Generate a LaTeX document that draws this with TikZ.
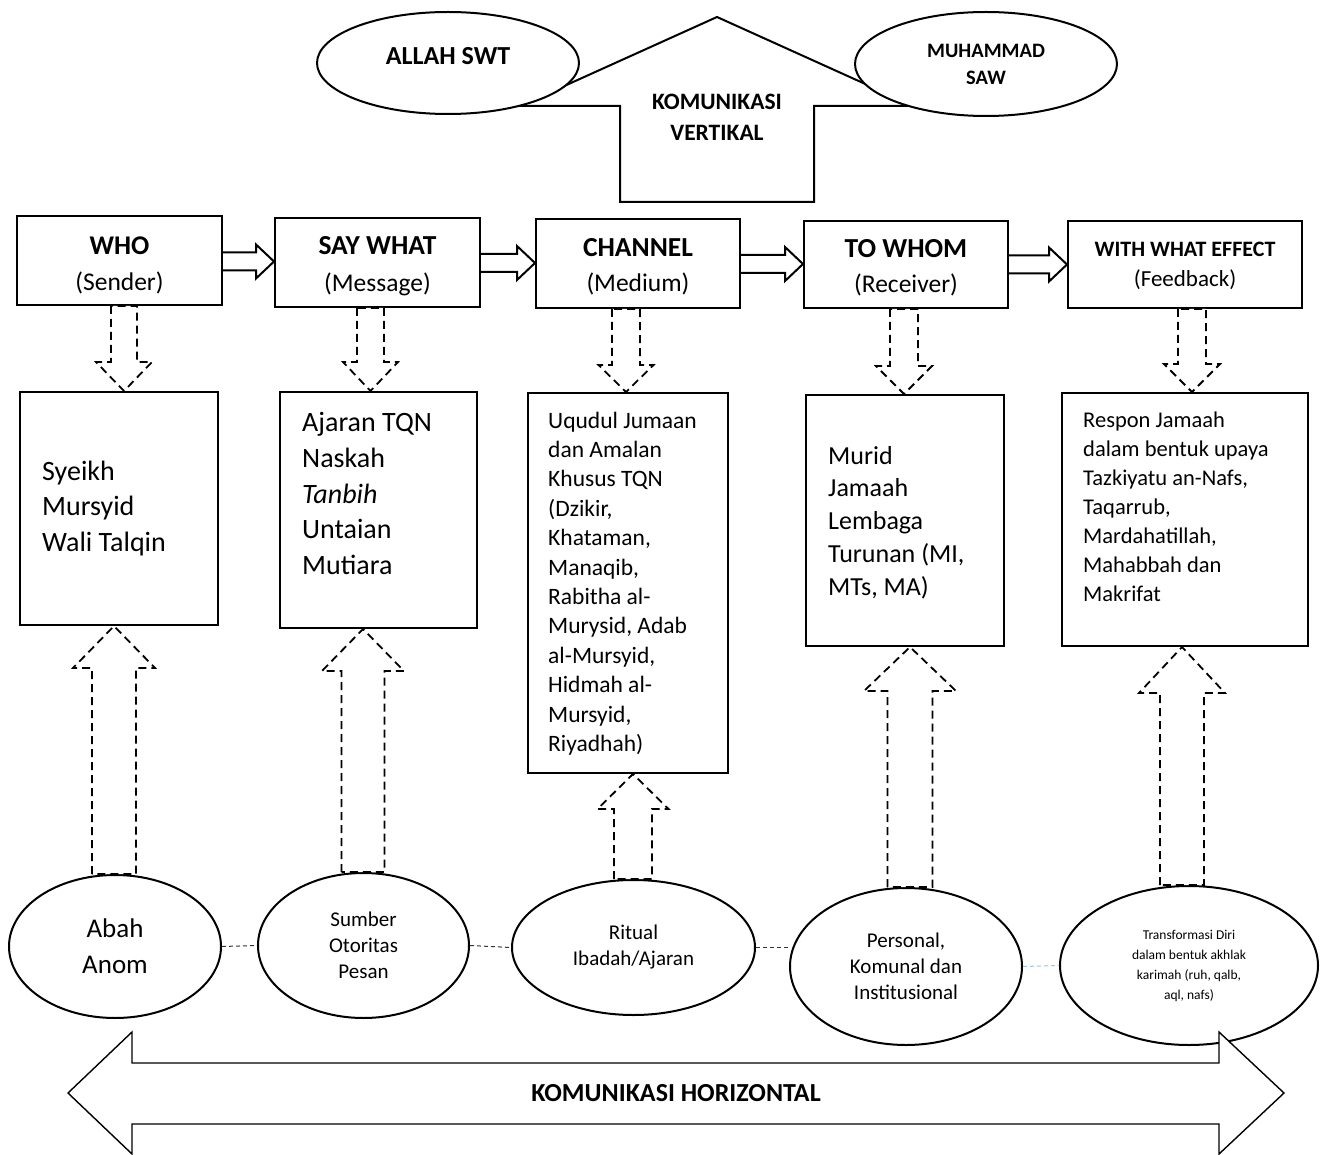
\documentclass[tikz,border=0pt]{standalone}
\usepackage{fontspec}
\setmainfont{Carlito}
\usetikzlibrary{shapes.geometric,calc}
\newcommand\myfs[2]{\fontsize{#1pt}{#2pt}\selectfont}
% horizontal hollow block arrow between two header boxes
\newcommand\harrow[2]{\path[harr] let \p1=(#1.east), \p2=(#2.west), \p3=($(#1.east)!.5!(#2.west)$) in
  (\x1,\y3+9pt) -- (\x2-18pt,\y3+9pt) -- (\x2-18pt,\y3+17pt) -- (\x2,\y3) -- (\x2-18pt,\y3-17pt) -- (\x2-18pt,\y3-9pt) -- (\x1,\y3-9pt);}
% dashed block arrow pointing down: src, dst, x, shaft half, head half, head length
\newcommand\dnarrow[6]{\path[darr] let \p1=(#1.south), \p2=(#2.north) in
  (#3pt-#4pt,\y1) -- (#3pt-#4pt,\y2+#6pt) -- (#3pt-#5pt,\y2+#6pt) -- (#3pt,\y2) -- (#3pt+#5pt,\y2+#6pt) -- (#3pt+#4pt,\y2+#6pt) -- (#3pt+#4pt,\y1) -- cycle;}
% dashed block arrow pointing up
\newcommand\uparrowblk[6]{\path[darr] let \p1=(#1.north), \p2=(#2.south) in
  (#3pt-#4pt,\y1) -- (#3pt-#4pt,\y2-#6pt) -- (#3pt-#5pt,\y2-#6pt) -- (#3pt,\y2) -- (#3pt+#5pt,\y2-#6pt) -- (#3pt+#4pt,\y2-#6pt) -- (#3pt+#4pt,\y1) -- cycle;}
\begin{document}
\begin{tikzpicture}[x=1pt,y=-1pt,
  box/.style={draw, line width=2pt, fill=white, inner sep=0pt},
  txt/.style={inner sep=0pt, align=center},
  ltxt/.style={inner sep=0pt, align=left, anchor=west},
  ell/.style={draw, ellipse, line width=2pt, fill=white, inner sep=0pt, align=center},
  darr/.style={draw, line width=1.8pt, dash pattern=on 8pt off 5pt, fill=white},
  harr/.style={draw, line width=2pt, fill=white},
  link/.style={line width=1pt, dash pattern=on 4pt off 3pt, draw=black!80},
  bigarr/.style={draw, line width=1.4pt, fill=white},
]
\useasboundingbox[fill=white] (0,0) rectangle (1320,1155);

% ---------- vertical communication ----------
\draw[line width=2pt, fill=white] (520,106) -- (717,17) -- (914,106) -- (814,106) -- (814,202) -- (620,202) -- (620,106) -- cycle;
\node[txt, font=\bfseries\myfs{23.5}{31}] (vert) at (717,117.5) {KOMUNIKASI\\VERTIKAL};
\node[ell, minimum width=262pt, minimum height=102pt] (allah) at (448,63) {};
\node[txt, font=\bfseries\myfs{26}{30}] (allaht) at (448,56) {ALLAH SWT};
\node[ell, minimum width=262pt, minimum height=104pt, font=\bfseries\myfs{20.5}{27}] (muh) at (986,64) {MUHAMMAD\\SAW};

% ---------- header boxes ----------
\node[box, minimum width=205pt, minimum height=89pt] (who) at (119.5,260.5) {};
\node[box, minimum width=205pt, minimum height=89pt] (say) at (377.5,262.5) {};
\node[box, minimum width=204pt, minimum height=89pt] (chan) at (638,263.5) {};
\node[box, minimum width=204pt, minimum height=87pt] (whom) at (906,264.5) {};
\node[box, minimum width=234pt, minimum height=87pt] (eff) at (1185,264.5) {};

\node[txt, font=\myfs{25.5}{36}] (whot) at (119.5,265) {{\bfseries\myfs{27}{36}WHO}\\(Sender)};
\node[txt, font=\myfs{25.5}{37}] (sayt) at (377.5,266.5) {{\bfseries\myfs{27.5}{37}SAY WHAT}\\(Message)};
\node[txt, font=\myfs{25.5}{35}] (chant) at (638,266.5) {{\bfseries\myfs{27.5}{35}CHANNEL}\\(Medium)};
\node[txt, font=\myfs{25.5}{35}] (whomt) at (906,267.5) {{\bfseries\myfs{27.5}{35}TO WHOM}\\(Receiver)};
\node[txt, font=\myfs{23}{30}] (efft) at (1185,266) {{\bfseries\myfs{22}{30}WITH WHAT EFFECT}\\(Feedback)};

\harrow{who}{say}
\harrow{say}{chan}
\harrow{chan}{whom}
\harrow{whom}{eff}

% ---------- content boxes ----------
\node[box, minimum width=198pt, minimum height=233pt] (c1) at (119,508.5) {};
\node[box, minimum width=197pt, minimum height=236pt] (c2) at (378.5,510) {};
\node[box, minimum width=200pt, minimum height=380pt] (c3) at (628,583) {};
\node[box, minimum width=198pt, minimum height=251pt] (c4) at (905,520.5) {};
\node[box, minimum width=246pt, minimum height=253pt] (c5) at (1185,519.5) {};

\node[ltxt, font=\myfs{28}{35.5}] (t1) at (42,508.5) {Syeikh\\Mursyid\\Wali Talqin};
\node[ltxt, font=\myfs{28}{35.7}] (t2) at (302,493.5) {Ajaran TQN\\Naskah\\\textit{Tanbih}\\Untaian\\Mutiara};
\node[ltxt, font=\myfs{23.5}{29.4}] (t3) at (548,583.5) {Uqudul Jumaan\\dan Amalan\\Khusus TQN\\(Dzikir,\\Khataman,\\Manaqib,\\Rabitha al-\\Murysid, Adab\\al-Mursyid,\\Hidmah al-\\Mursyid,\\Riyadhah)};
\node[ltxt, font=\myfs{26}{32.75}] (t4) at (828,522.5) {Murid\\Jamaah\\Lembaga\\Turunan (MI,\\MTs, MA)};
\node[ltxt, font=\myfs{22.5}{29}] (t5) at (1083,507) {Respon Jamaah\\dalam bentuk upaya\\Tazkiyatu an-Nafs,\\Taqarrub,\\Mardahatillah,\\Mahabbah dan\\Makrifat};

% ---------- down arrows ----------
\dnarrow{who}{c1}{124}{13}{28}{29}
\dnarrow{say}{c2}{370.5}{13.5}{27.5}{29}
\dnarrow{chan}{c3}{626}{14}{27.5}{27}
\dnarrow{whom}{c4}{904}{14}{28}{28}
\dnarrow{eff}{c5}{1192}{14}{28}{28}

% ---------- bottom ellipses ----------
\node[ell, minimum width=212pt, minimum height=143pt, font=\myfs{27}{36}] (e1) at (115,946.5) {Abah\\Anom};
\node[ell, minimum width=211pt, minimum height=145pt, font=\myfs{21}{26}] (e2) at (363.5,945.5) {Sumber\\Otoritas\\Pesan};
\node[ell, minimum width=243pt, minimum height=135pt, font=\myfs{21}{26}] (e3) at (633.5,947.5) {Ritual\\Ibadah/Ajaran};
\node[ell, minimum width=232pt, minimum height=157pt, font=\myfs{21}{26}] (e4) at (906,966.5) {Personal,\\Komunal dan\\Institusional};
\node[ell, minimum width=258pt, minimum height=159pt, font=\myfs{13.5}{20}] (e5) at (1189,965.5) {Transformasi Diri\\dalam bentuk akhlak\\karimah (ruh, qalb,\\aql, nafs)};

% ---------- up arrows ----------
\uparrowblk{e1}{c1}{114}{22}{41}{42}
\uparrowblk{e2}{c2}{363}{21.5}{41}{42}
\uparrowblk{e3}{c3}{633}{19}{35.5}{35}
\uparrowblk{e4}{c4}{910}{22.5}{46}{44}
\uparrowblk{e5}{c5}{1182}{22}{43}{46}

% ---------- links between ellipses ----------
\draw[link] (e1.east) -- (e2.west);
\draw[link] (e2.east) -- (e3.west);
\draw[link] (e3.east) -- (e3.east -| e4.west);
\draw[link, draw={rgb,255:red,157;green,195;blue,230}] (e4.east) -- (e5.west);

% ---------- horizontal communication ----------
\draw[bigarr] (68,1093) -- (132,1032) -- (132,1063) -- (1219,1063) -- (1219,1032) -- (1284,1093) -- (1219,1154) -- (1219,1124) -- (132,1124) -- (132,1154) -- cycle;
\node[txt, font=\bfseries\myfs{26}{30}] (hor) at (676,1093) {KOMUNIKASI HORIZONTAL};
\end{tikzpicture}
\end{document}
